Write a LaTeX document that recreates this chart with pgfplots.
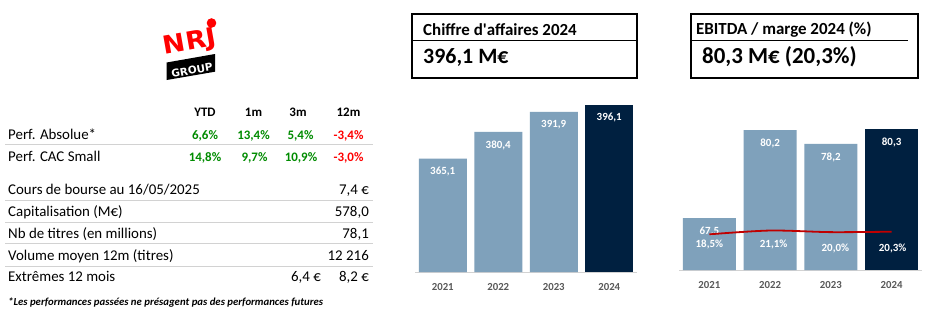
\documentclass[border=0pt]{standalone}
\usepackage{pgfplots}
\pgfplotsset{compat=1.18}
\usepackage{fontspec}
\setmainfont{Carlito}
\newfontfamily\logofont{DejaVu Sans}
\definecolor{barlight}{RGB}{127,161,187}
\definecolor{bardark}{RGB}{0,32,64}
\definecolor{perfgreen}{RGB}{0,140,0}
\definecolor{perfred}{RGB}{255,0,0}
\definecolor{linered}{RGB}{192,0,0}
\definecolor{rulegray}{RGB}{210,210,210}
\definecolor{yeargray}{RGB}{89,89,89}
\newcommand\tf{\fontsize{14.95}{17}\selectfont}
\newcommand\hf{\fontsize{13}{15}\selectfont\bfseries}
\newcommand\lf{\fontsize{11}{12}\selectfont\bfseries}
\pgfplotsset{
  minichart/.style={
    scale only axis, anchor=south west,
    xmin=-0.5, xmax=3.5,
    axis x line=bottom, axis y line=none,
    x axis line style={draw=rulegray, line width=1bp, -},
    xtick={0,1,2,3}, xticklabels={2021,2022,2023,2024},
    major tick length=0pt,
    xticklabel style={font=\fontsize{10.8}{12}\selectfont\bfseries, text=yeargray, inner sep=0pt, yshift=-11.5bp},
    /pgf/number format/assume math mode=true,
    ybar,
    nodes near coords={\pgfmathprintnumber[fixed,fixed zerofill,precision=1,use comma]{\pgfplotspointmeta}},
    nodes near coords align={below},
    every node near coord/.append style={font=\lf, text=white, inner sep=0pt, yshift=-8.5bp},
  }
}
\begin{document}
\begin{tikzpicture}[x=1bp,y=1bp]
\fill[white] (0,0) rectangle (939,322);
\useasboundingbox (0,0) rectangle (939,322);

% ---------- logo ----------
\fill[black] (166.7,242) -- (215,250.3) -- (215,268) -- (166.7,259.5) -- cycle;
\node[rotate=10, font=\logofont\bfseries\fontsize{25}{25}\selectfont, text=red, inner sep=0pt, xscale=1.08] at (190,279) {NRJ};
\fill[red] (211.5,299) circle (4.8);
\node[rotate=10, font=\logofont\bfseries\fontsize{10.5}{10.5}\selectfont, text=white, inner sep=0pt] at (192,251.5) {GROUP};

% ---------- table ----------
\foreach \xx/\tt in {205/YTD, 253.5/1m, 298/3m, 348.5/12m}
  \node[anchor=base, inner sep=0pt, font=\hf] at (\xx,206) {\tt};
\node[anchor=base west, inner sep=0pt, font=\tf] at (8,183) {Perf. Absolue*};
\node[anchor=base west, inner sep=0pt, font=\tf] at (8,161) {Perf. CAC Small};
\node[anchor=base, inner sep=0pt, font=\hf, text=perfgreen] at (205,183) {6,6\%};
\node[anchor=base, inner sep=0pt, font=\hf, text=perfgreen] at (253.5,183) {13,4\%};
\node[anchor=base, inner sep=0pt, font=\hf, text=perfgreen] at (300.5,183) {5,4\%};
\node[anchor=base, inner sep=0pt, font=\hf, text=perfred] at (348.5,183) {-3,4\%};
\node[anchor=base, inner sep=0pt, font=\hf, text=perfgreen] at (205,161) {14,8\%};
\node[anchor=base, inner sep=0pt, font=\hf, text=perfgreen] at (254.5,161) {9,7\%};
\node[anchor=base, inner sep=0pt, font=\hf, text=perfgreen] at (301,161) {10,9\%};
\node[anchor=base, inner sep=0pt, font=\hf, text=perfred] at (348.5,161) {-3,0\%};
\foreach \yy in {178,122,100,79,56}
  \draw[rulegray, line width=1bp] (5,\yy) -- (373,\yy);
\node[anchor=base west, inner sep=0pt, font=\tf] at (8,128) {Cours de bourse au 16/05/2025};
\node[anchor=base east, inner sep=0pt, font=\tf] at (369,128) {7,4 €};
\node[anchor=base west, inner sep=0pt, font=\tf] at (8,105.3) {Capitalisation (M€)};
\node[anchor=base east, inner sep=0pt, font=\tf] at (369,105.3) {578,0};
\node[anchor=base west, inner sep=0pt, font=\tf] at (8,84) {Nb de titres (en millions)};
\node[anchor=base east, inner sep=0pt, font=\tf] at (369,84) {78,1};
\node[anchor=base west, inner sep=0pt, font=\tf] at (8,61.3) {Volume moyen 12m (titres)};
\node[anchor=base east, inner sep=0pt, font=\tf] at (369,61.3) {12 216};
\node[anchor=base west, inner sep=0pt, font=\tf] at (8,40.3) {Extrêmes 12 mois};
\node[anchor=base east, inner sep=0pt, font=\tf] at (321,40.3) {6,4 €};
\node[anchor=base east, inner sep=0pt, font=\tf] at (369,40.3) {8,2 €};
\node[anchor=base west, inner sep=0pt, font=\fontsize{10.8}{12}\selectfont\bfseries\itshape] at (8,16.3) {*Les performances passées ne présagent pas des performances futures};

% ---------- title boxes ----------
\draw[line width=1.6bp] (412,244) rectangle (637,308);
\draw[line width=0.8bp] (412,282) -- (637,282);
\node[anchor=base west, inner sep=0pt, font=\fontsize{17}{20}\selectfont\bfseries] at (423,287) {Chiffre d\textquotesingle affaires 2024};
\node[anchor=base west, inner sep=0pt, font=\fontsize{22}{26}\selectfont\bfseries] at (423,258.7) {396,1 M€};
\draw[line width=1.6bp] (691,244) rectangle (918,308);
\draw[line width=0.8bp] (691,282) -- (908,282);
\node[anchor=base west, inner sep=0pt, font=\fontsize{17}{20}\selectfont\bfseries] at (696,287.5) {EBITDA / marge 2024 (\%)};
\node[anchor=base west, inner sep=0pt, font=\fontsize{23}{27}\selectfont\bfseries] at (702,258.7) {80,3 M€ (20,3\%)};

% ---------- revenue chart ----------
\begin{axis}[minichart, at={(415bp,50bp)}, width=222bp, height=172bp, ymin=300, ymax=398.7]
\addplot[fill=barlight, draw=none, bar width=48bp, bar shift=0pt] coordinates {(0,365.1) (1,380.4) (2,391.9)};
\addplot[fill=bardark, draw=none, bar width=48bp, bar shift=0pt] coordinates {(3,396.1)};
\end{axis}

% ---------- EBITDA chart ----------
\begin{axis}[minichart, at={(679bp,52bp)}, width=243bp, height=150bp, ymin=60, ymax=81.65]
\addplot[fill=barlight, draw=none, bar width=53bp, bar shift=0pt] coordinates {(0,67.5) (1,80.2) (2,78.2)};
\addplot[fill=bardark, draw=none, bar width=53bp, bar shift=0pt] coordinates {(3,80.3)};
\end{axis}
\begin{axis}[scale only axis, anchor=south west, at={(679bp,52bp)}, width=243bp, height=150bp,
  xmin=-0.5, xmax=3.5, ymin=-6, ymax=97, hide axis]
\addplot[linered, line width=1.8bp, smooth, no marks] coordinates {(0,18.5) (1,21.1) (2,20.0) (3,20.3)};
\node[font=\lf, text=white, inner sep=0pt, yshift=-9.7bp] at (axis cs:0,18.5) {18,5\%};
\node[font=\lf, text=white, inner sep=0pt, yshift=-13.5bp, xshift=3.5bp] at (axis cs:1,21.1) {21,1\%};
\node[font=\lf, text=white, inner sep=0pt, yshift=-15.9bp, xshift=4.5bp] at (axis cs:2,20.0) {20,0\%};
\node[font=\lf, text=white, inner sep=0pt, yshift=-16.4bp, xshift=1bp] at (axis cs:3,20.3) {20,3\%};
\end{axis}
\end{tikzpicture}
\end{document}
